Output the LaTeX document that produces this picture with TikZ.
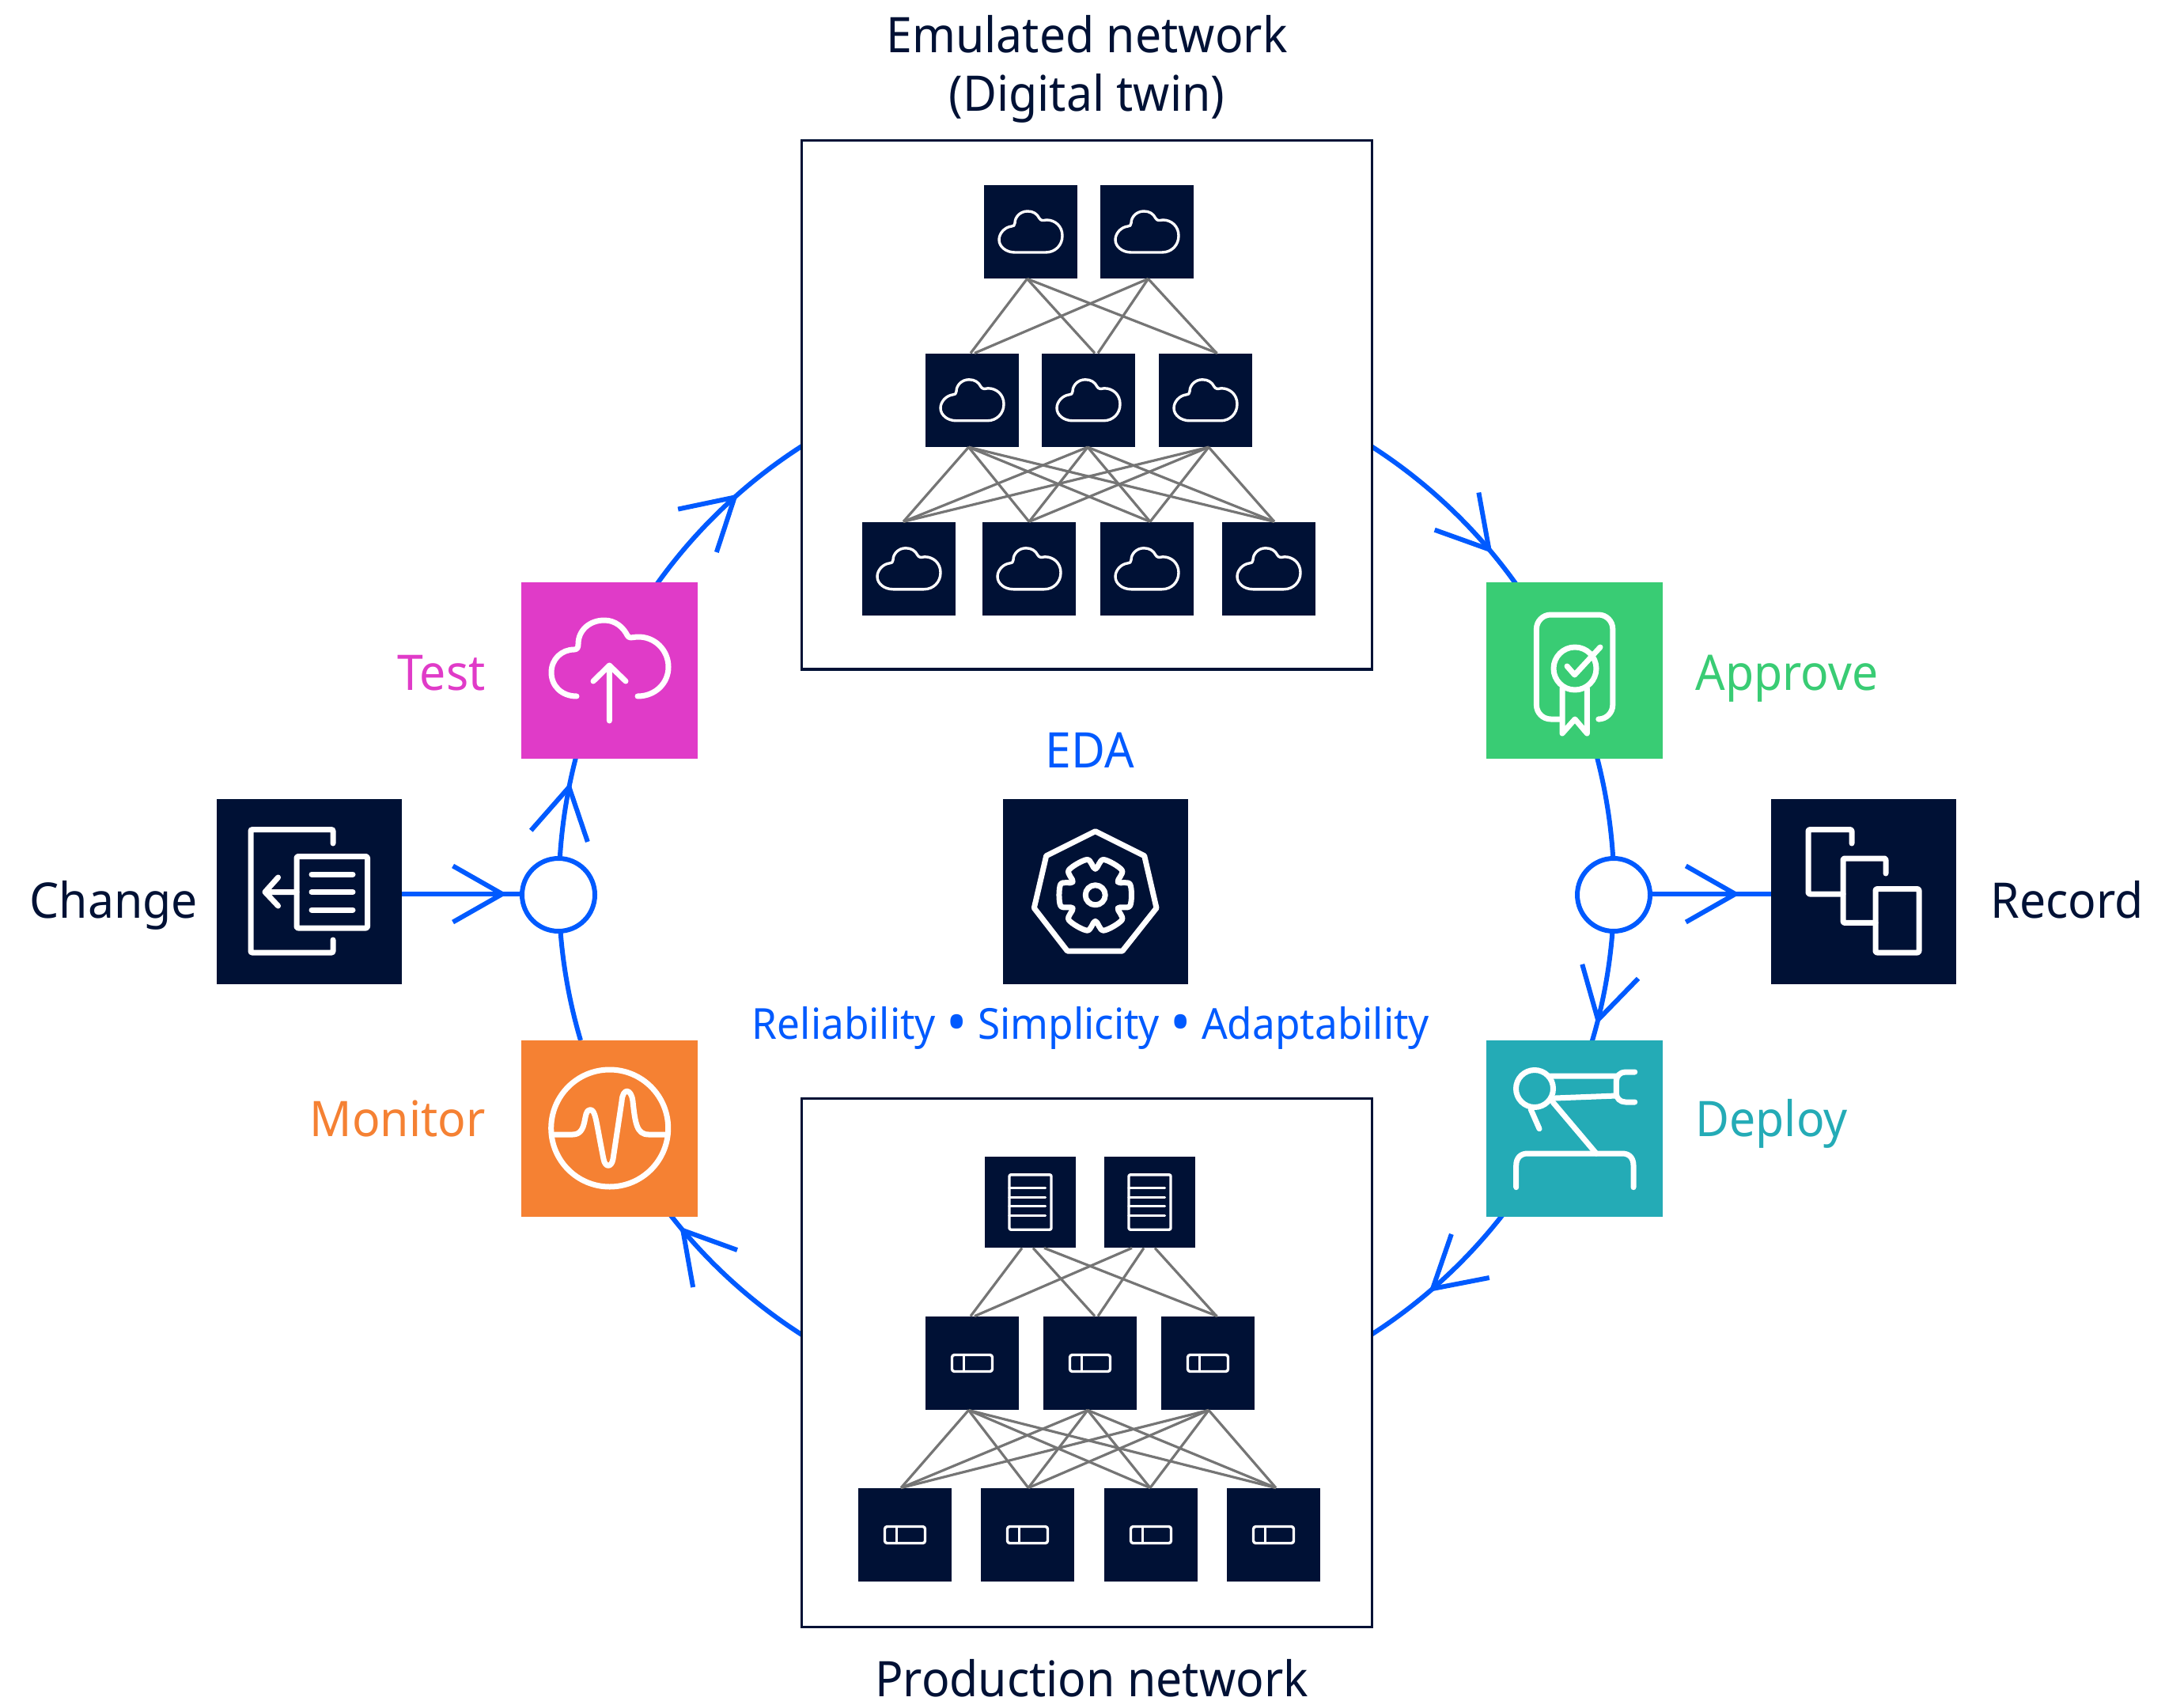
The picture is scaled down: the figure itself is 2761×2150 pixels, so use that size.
\documentclass[tikz,border=0pt]{standalone}
\usepackage{fontspec}
\setmainfont{Noto Sans}[FakeStretch=0.95]
\usetikzlibrary{calc}
\definecolor{navy}{HTML}{001135}
\definecolor{flowblue}{HTML}{005AFF}
\definecolor{testc}{HTML}{E03BC8}
\definecolor{approvec}{HTML}{39CC74}
\definecolor{monitorc}{HTML}{F58133}
\definecolor{deployc}{HTML}{24ABB6}
\definecolor{linkc}{HTML}{757575}
\newcommand{\bigdot}{\raisebox{-2.5pt}{\fontsize{37pt}{32pt}\selectfont •}}
\tikzset{
  x=0.5pt,y=-0.5pt,
  frame/.style={draw=navy,line width=1.7pt,fill=white,minimum width=360.5pt,minimum height=334pt,inner sep=0pt},
  navybox/.style={fill=navy,minimum width=59pt,minimum height=59pt,inner sep=0pt},
  prodtop/.style={fill=navy,minimum width=57.5pt,minimum height=57.5pt,inner sep=0pt},
  bigbox/.style={fill=navy,minimum width=117pt,minimum height=117pt,inner sep=0pt},
  stepbox/.style={minimum width=111.5pt,minimum height=111.5pt,inner sep=0pt},
  flow/.style={draw=flowblue,line width=3pt},
  junction/.style={circle,draw=flowblue,fill=white,line width=3pt,minimum size=46pt,inner sep=0pt},
  link/.style={draw=linkc,line width=1.6pt},
  icon/.style={draw=white,line width=3.5pt,line cap=round,line join=round},
  tiny/.style={draw=white,line width=1.7pt,line cap=round,line join=round},
  lab/.style={font=\fontsize{31pt}{37pt}\selectfont,inner sep=0pt},
  cloudicon/.pic={
    \draw[tiny] (-20,26) -- (19,26) .. controls (31,26) and (40,17) .. (40,5)
      .. controls (40,-7) and (31,-15) .. (20,-15) .. controls (15,-14) and (13,-14) .. (11,-17)
      .. controls (8,-23) and (3,-26) .. (-4,-26) .. controls (-13,-26) and (-20,-19) .. (-20,-11)
      .. controls (-20,-8) and (-22,-7) .. (-24,-7) .. controls (-33,-6) and (-40,2) .. (-40,10)
      .. controls (-40,19) and (-31,26) .. (-20,26) -- cycle;
  },
  servericon/.pic={
    \draw[tiny,rounded corners=1pt] (-26.5,-34.7) rectangle (26.5,34.7);
    \foreach \yy in {-18,-6,5,17} \draw[tiny] (-26.5,\yy) -- (19,\yy);
  },
  switchicon/.pic={
    \draw[tiny,rounded corners=1.5pt] (-25.5,-10.5) rectangle (25.5,10.5);
    \draw[tiny] (-10.5,-10.5) -- (-10.5,10.5);
  }
}
\begin{document}
\begin{tikzpicture}
\useasboundingbox (0,0) rectangle (2761,2150);
\coordinate (hub) at (1373.5,1125.5);
% ring segments
\foreach \nm/\sa/\ea in {sa/176.3/164,sb/146/122.5,sc/57.5/34,sd/16/3.7,se/-3/-18,sf/-37/-57.5,sg/237.5/217,sh/196.5/183}{
  \coordinate (\nm) at ($(hub)+(\sa:333.5pt)$);
  \draw[flow] (\nm) arc[start angle=\sa,end angle=\ea,radius=333.5pt];
}
% barbs on the ring
\foreach \t/\nm in {168.7/ta,131.84/tb,40.27/tc,-14.2/td,-49/te,220.1/tf}{
  \coordinate (\nm) at ($(hub)+(\t:333.5pt)$);
  \draw[flow,line join=miter] ($(\nm)+(\t+60:36.5pt)$) -- (\nm) -- ($(\nm)+(\t+120:36.5pt)$);
}
% frames
\node[frame] (emu) at (1373.7,511.8) {};
\node[frame] (prod) at (1373.7,1722.5) {};
% emulated network
\node[navybox] (e1) at (1303,293) {};
\node[navybox] (e2) at (1450,293) {};
\node[navybox] (f1) at (1229,505.8) {};
\node[navybox] (f2) at (1376,505.8) {};
\node[navybox] (f3) at (1524,505.8) {};
\node[navybox] (g1) at (1149,718.8) {};
\node[navybox] (g2) at (1301,718.8) {};
\node[navybox] (g3) at (1450,718.8) {};
\node[navybox] (g4) at (1604,718.8) {};
\foreach \a/\ax/\b/\bx in {e1/-4.5/f1/-2,e1/-4.5/f2/8,e1/-4.5/f3/15,e2/1.5/f1/3,e2/1.5/f2/12,e2/1.5/f3/14,
  f1/-4.5/g1/-7,f1/-4.5/g2/0,f1/-4.5/g3/4,f1/-4.5/g4/7,
  f2/-1/g1/-7,f2/-1/g2/0,f2/-1/g3/4,f2/-1/g4/7,
  f3/4/g1/-7,f3/4/g2/0,f3/4/g3/4,f3/4/g4/7}
  \draw[link] ([xshift=\ax*0.5pt]\a.south) -- ([xshift=\bx*0.5pt]\b.north);
\foreach \n in {e1,e2,f1,f2,f3,g1,g2,g3,g4} \pic at (\n) {cloudicon};
% production network
\node[prodtop] (p1) at (1302.5,1519.5) {};
\node[prodtop] (p2) at (1453.5,1519.5) {};
\node[navybox] (q1) at (1229,1723) {};
\node[navybox] (q2) at (1378,1723) {};
\node[navybox] (q3) at (1527,1723) {};
\node[navybox] (w1) at (1144,1940) {};
\node[navybox] (w2) at (1299,1940) {};
\node[navybox] (w3) at (1455,1940) {};
\node[navybox] (w4) at (1610,1940) {};
\foreach \a/\ax/\b/\bx in {p1/-10.5/q1/-2,p1/3.5/q2/6,p1/17.5/q3/12,p2/-22.5/q1/3,p2/-7.5/q2/10,p2/6.5/q3/11,
  q1/-4.5/w1/-5,q1/-4.5/w2/1,q1/-4.5/w3/-1,q1/-4.5/w4/3,
  q2/-3/w1/-5,q2/-3/w2/1,q2/-3/w3/-1,q2/-3/w4/3,
  q3/1/w1/-5,q3/1/w2/1,q3/1/w3/-1,q3/1/w4/3}
  \draw[link] ([xshift=\ax*0.5pt]\a.south) -- ([xshift=\bx*0.5pt]\b.north);
\foreach \n in {p1,p2} \pic at (\n) {servericon};
\foreach \n in {q1,q2,q3,w1,w2,w3,w4} \pic at (\n) {switchicon};
% process steps
\node[stepbox,fill=testc] (test) at (770.5,847.3) {};
\node[stepbox,fill=approvec] (approve) at (1990.5,847.3) {};
\node[stepbox,fill=monitorc] (monitor) at (770.5,1426.5) {};
\node[stepbox,fill=deployc] (deploy) at (1990.5,1426.5) {};
\node[bigbox] (change) at (391,1127) {};
\node[bigbox] (record) at (2356,1127) {};
\node[bigbox] (eda) at (1385,1127) {};
\node[junction] (lc) at (706,1131) {};
\node[junction] (rc) at (2040,1131) {};
% side arrows
\coordinate (la) at (635,1130);
\coordinate (ra) at (2193.7,1130);
\draw[flow] (change.east |- la) -- (lc.west |- la);
\draw[flow] (rc.east |- ra) -- (record.west |- ra);
\draw[flow,line join=miter] ($(la)+(-62.4,-35.5)$) -- (la) -- ($(la)+(-62.4,35.5)$);
\draw[flow,line join=miter] ($(ra)+(-62.4,-35.5)$) -- (ra) -- ($(ra)+(-62.4,35.5)$);
% change icon
\draw[icon,line join=miter,rounded corners=1pt] (421,1066) -- (421,1048.6) -- (317,1048.6) -- (317,1204) -- (421,1204) -- (421,1188);
\draw[icon,rounded corners=1pt] (375,1082.5) rectangle (464.5,1173);
\draw[icon] (394,1105) -- (446,1105) (394,1127.5) -- (446,1127.5) (394,1150) -- (446,1150);
\draw[icon] (375,1127.5) -- (335,1127.5) (351.6,1109) -- (335,1127.5) -- (351.6,1145);
% record icon
\draw[icon,rounded corners=1pt] (2341,1066) -- (2341,1048.6) -- (2286,1048.6) -- (2286,1130) -- (2330,1130);
\draw[icon,rounded corners=1pt] (2384,1104) -- (2384,1085) -- (2330,1085) -- (2330,1166.4) -- (2371,1166.4);
\draw[icon,rounded corners=1pt] (2371,1123.6) rectangle (2426,1204);
% test icon
\draw[icon] (729,880) .. controls (710,880) and (697,867) .. (697,850) .. controls (697,833) and (710,821) .. (726,821)
  .. controls (730,821) and (731,818) .. (731,814) .. controls (731,797) and (745,784) .. (764,784)
  .. controls (778,784) and (788,793) .. (793,803) .. controls (795,807) and (798,806) .. (805,805)
  .. controls (828,804) and (845,822) .. (845,843) .. controls (845,864) and (828,880) .. (806,880);
\draw[icon] (770.4,911) -- (770.4,841) (750,861) -- (770.4,841) -- (791,861);
% approve icon
\draw[icon,rounded corners=9pt] (1972.8,909) -- (1942.4,909) -- (1942.4,777) -- (2038.8,777) -- (2038.8,909) -- (2022,909);
\draw[icon] (1991,845) circle[radius=13.5pt];
\draw[icon] (1975,870) -- (1975,927) -- (1991,909) -- (2006.3,927) -- (2006.3,870);
\draw[icon] (1981,842) -- (1990.6,853) -- (2023,818);
% monitor icon
\draw[icon] (770.7,1426) circle[radius=37pt];
\draw[icon] (700.7,1434) -- (724,1434) .. controls (744,1434) and (736,1402.7) .. (746,1402.7)
  .. controls (753,1402.7) and (753,1415) .. (763,1465) .. controls (765,1476) and (773,1476) .. (775,1465)
  -- (786,1392) .. controls (787,1375) and (798,1375) .. (800,1392) .. controls (803,1420) and (805,1434) .. (820,1434) -- (841.7,1434);
% deploy icon
\draw[icon] (1940,1376) circle[radius=11.75pt];
\draw[icon] (1960,1360) -- (2043.3,1360) -- (2043.3,1385) -- (1966,1388);
\draw[icon] (2066.7,1355) -- (2055,1355) .. controls (2048,1355) and (2043.3,1360) .. (2043.3,1367) -- (2043.3,1382) .. controls (2043.3,1388) and (2048,1393) .. (2055,1393) -- (2066.7,1393);
\draw[icon] (1935,1401.7) -- (1946,1426.7);
\draw[icon] (1963.3,1393.3) -- (2018,1458);
\draw[icon] (1916.7,1500.7) -- (1916.7,1473) .. controls (1916.7,1464) and (1922,1458) .. (1931,1458) -- (2051,1458) .. controls (2060,1458) and (2065,1464) .. (2065,1473) -- (2065,1500.7);
% EDA icon
\draw[icon,line width=3.5pt] (1384.7,1050.7) -- (1446.7,1081.7) -- (1462,1147.7) -- (1419,1202) -- (1349.3,1202) -- (1307.3,1147.7) -- (1322.7,1081.7) -- cycle;
\begin{scope}[shift={(1384.7,1131.3)}]
\draw[icon] plot[smooth cycle,tension=0.55] coordinates {
 (-17:46) (17:46) (30:33) (43:46) (77:46) (90:33) (103:46) (137:46) (150:33)
 (163:46) (197:46) (210:33) (223:46) (257:46) (270:33) (283:46) (317:46) (330:33)};
\draw[icon] (0,0) circle[radius=6.25pt];
\end{scope}
% labels
\node[lab,text=navy,anchor=base] (lemu) at (1374,67) {Emulated network};
\node[lab,text=navy,anchor=base] (ldig) at (1374,141) {(Digital twin)};
\node[lab,text=navy,anchor=base] (lprod) at (1380,2144) {Production network};
\node[lab,text=flowblue,anchor=base] (leda) at (1378,970) {EDA};
\node[lab,text=flowblue,anchor=base,font=\fontsize{27pt}{32pt}\selectfont] (lrel) at (1379,1313) {Reliability \bigdot{} Simplicity \bigdot{} Adaptability};
\node[lab,text=testc,anchor=base east] (ltest) at (614,872) {Test};
\node[lab,text=approvec,anchor=base west] (lappr) at (2143,872) {Approve};
\node[lab,text=monitorc,anchor=base east] (lmon) at (614,1436) {Monitor};
\node[lab,text=deployc,anchor=base west] (ldep) at (2143,1436) {Deploy};
\node[lab,text=navy,anchor=base west] (lchg) at (37,1160.5) {Change};
\node[lab,text=navy,anchor=base west] (lrec) at (2516,1160.5) {Record};
\end{tikzpicture}
\end{document}
